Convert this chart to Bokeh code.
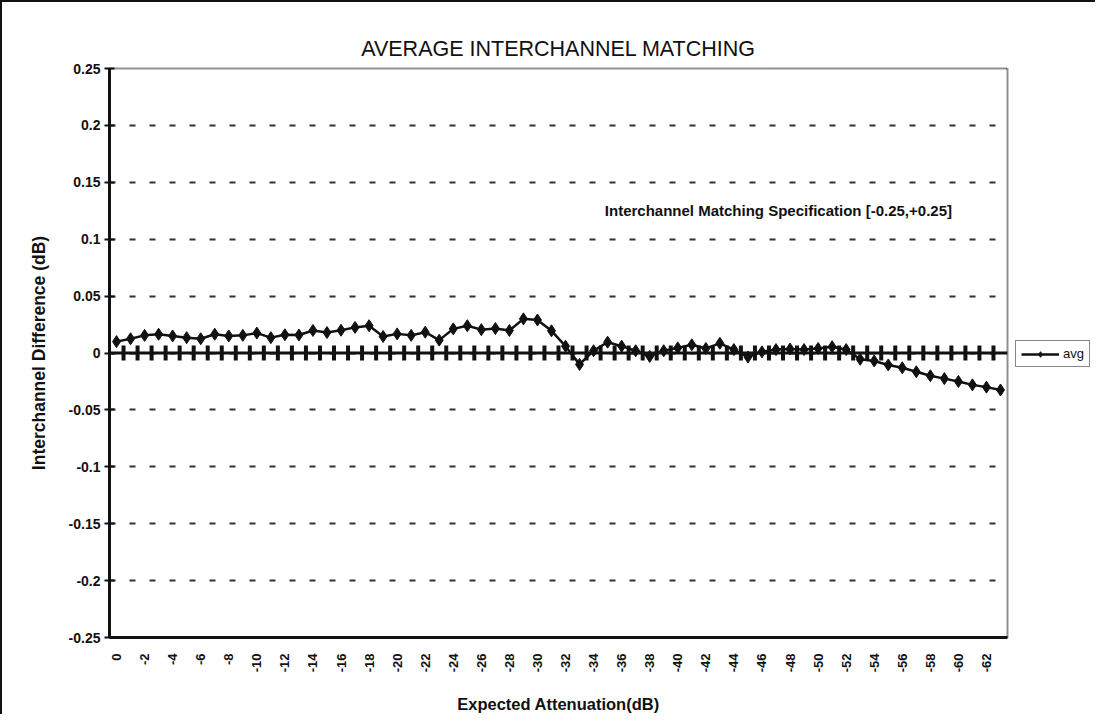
import math
from bokeh.plotting import figure
from bokeh.layouts import row
from bokeh.models import (FactorRange, Range1d, FixedTicker, Span, Label,
                          Legend, LegendItem, CustomJSTickFormatter)
from bokeh.embed import file_html
from bokeh.resources import INLINE

# ---------------- data ----------------
attenuation = ["0", "-1", "-2", "-3", "-4", "-5", "-6", "-7", "-8", "-9",
               "-10", "-11", "-12", "-13", "-14", "-15", "-16", "-17", "-18", "-19",
               "-20", "-21", "-22", "-23", "-24", "-25", "-26", "-27", "-28", "-29",
               "-30", "-31", "-32", "-33", "-34", "-35", "-36", "-37", "-38", "-39",
               "-40", "-41", "-42", "-43", "-44", "-45", "-46", "-47", "-48", "-49",
               "-50", "-51", "-52", "-53", "-54", "-55", "-56", "-57", "-58", "-59",
               "-60", "-61", "-62", "-63"]

avg = [0.010, 0.0125, 0.0155, 0.0165, 0.015, 0.0135, 0.0125, 0.0165, 0.015, 0.0155,
       0.0175, 0.0135, 0.016, 0.0158, 0.0198, 0.018, 0.020, 0.0225, 0.024, 0.0145,
       0.0168, 0.0155, 0.0183, 0.0113, 0.0212, 0.024, 0.0205, 0.0215, 0.0198, 0.030,
       0.029, 0.0195, 0.006, -0.010, 0.002, 0.0095, 0.006, 0.002, -0.003, 0.002,
       0.0045, 0.0072, 0.004, 0.0085, 0.003, -0.0035, 0.001, 0.003, 0.0035, 0.003,
       0.004, 0.0055, 0.003, -0.0055, -0.007, -0.0105, -0.013, -0.0165, -0.020, -0.0225,
       -0.025, -0.028, -0.030, -0.0325]

y_ticks = [0.25, 0.2, 0.15, 0.1, 0.05, 0.0, -0.05, -0.1, -0.15, -0.2, -0.25]
y_tick_labels = ["0.25", "0.2", "0.15", "0.1", "0.05", "0", "-0.05", "-0.1",
                 "-0.15", "-0.2", "-0.25"]

title_text = "AVERAGE INTERCHANNEL MATCHING"
x_title = "Expected Attenuation(dB)"
y_title = "Interchannel Difference (dB)"
spec_text = "Interchannel Matching Specification [-0.25,+0.25]"
series_name = "avg"

FONT = "Liberation Sans"
INK = "#111111"

# ---------------- main figure ----------------
p = figure(x_range=FactorRange(factors=attenuation),
           y_range=Range1d(-0.25, 0.25),
           frame_width=896, frame_height=567,
           min_border_left=107, min_border_right=4,
           min_border_top=66, min_border_bottom=69,
           output_backend="svg", toolbar_location=None,
           background_fill_color="white", border_fill_color="white")

# outer chart frame (left / top edges visible in the reference)
p.styles = {"border-left": "2px solid #111", "border-top": "2px solid #111"}

# title
p.title.text = title_text
p.title.align = "center"
p.title.text_font = FONT
p.title.text_font_size = "21.5px"
p.title.text_font_style = "normal"
p.title.text_color = INK
p.title.standoff = 15

# outline (top / right dotted)
p.outline_line_color = "#222222"
p.outline_line_width = 2
p.outline_line_dash = "1 1"

# grids
p.xgrid.grid_line_color = None
p.ygrid.ticker = FixedTicker(ticks=y_ticks)
p.ygrid.grid_line_color = "#333333"
p.ygrid.grid_line_width = 2
p.ygrid.grid_line_dash = "6 14"

# y axis
yax = p.yaxis[0]
yax.ticker = FixedTicker(ticks=y_ticks)
yax.major_label_overrides = {t: s for t, s in zip(y_ticks, y_tick_labels)}
yax.axis_line_width = 3
yax.axis_line_color = INK
yax.major_tick_in = 5
yax.major_tick_out = 5
yax.major_tick_line_width = 2
yax.major_tick_line_color = INK
yax.minor_tick_line_color = None
yax.major_label_text_font = FONT
yax.major_label_text_font_style = "bold"
yax.major_label_text_font_size = "14px"
yax.major_label_text_color = INK
yax.major_label_standoff = 4
yax.axis_label = y_title
yax.axis_label_text_font = FONT
yax.axis_label_text_font_style = "bold"
yax.axis_label_text_font_size = "17.5px"
yax.axis_label_text_color = INK
yax.axis_label_standoff = 17

# x axis (label every second category)
xax = p.xaxis[0]
xax.formatter = CustomJSTickFormatter(code="return (index % 2 == 0) ? tick : '';")
xax.major_label_orientation = math.pi / 2
xax.axis_line_width = 3
xax.axis_line_color = INK
xax.major_tick_line_color = None
xax.minor_tick_line_color = None
xax.major_label_text_font = FONT
xax.major_label_text_font_style = "bold"
xax.major_label_text_font_size = "13px"
xax.major_label_text_color = INK
xax.major_label_standoff = 10
xax.axis_label = x_title
xax.axis_label_text_font = FONT
xax.axis_label_text_font_style = "bold"
xax.axis_label_text_font_size = "16.5px"
xax.axis_label_text_color = INK
xax.axis_label_standoff = 20

# zero (category) axis line with crossing ticks at category boundaries
p.add_layout(Span(location=0, dimension="width", line_color=INK, line_width=3))
boundaries = list(range(1, len(attenuation)))
p.scatter(x=boundaries, y=[0] * len(boundaries), marker="dash", angle=math.pi / 2,
          size=15, line_width=4, line_color=INK)

# series
p.line(x=attenuation, y=avg, line_color=INK, line_width=2.5)
p.scatter(x=attenuation, y=avg, marker="diamond", size=12,
          fill_color=INK, line_color=INK)

# specification note
p.add_layout(Label(x=35.3, y=0.125, text=spec_text, text_font=FONT,
                   text_font_style="bold", text_font_size="15px",
                   text_color=INK, text_baseline="middle"))

# ---------------- legend panel (outside the plot, to the right) ----------------
lf = figure(width=86, height=702, x_range=Range1d(10, 11), y_range=Range1d(10, 11),
            x_axis_location=None, y_axis_location=None,
            min_border=0, output_backend="svg", toolbar_location=None,
            background_fill_color="white", border_fill_color="white")
lf.styles = {"border-top": "2px solid #111"}
lf.outline_line_color = None
lf.grid.grid_line_color = None
# legend proxies styled like the series (kept outside the visible range)
proxy_line = lf.line(x=[0, 1], y=[0, 1], line_color=INK, line_width=2.5)
proxy_pts = lf.scatter(x=[0], y=[0], marker="diamond", size=10,
                       fill_color=INK, line_color=INK)
legend = Legend(items=[LegendItem(label=series_name, renderers=[proxy_line, proxy_pts])],
                location=(6, 258), orientation="vertical",
                border_line_color=INK, border_line_width=1.5,
                background_fill_color="white", padding=5, margin=0, spacing=0,
                glyph_width=38, glyph_height=14, label_standoff=4,
                label_text_font=FONT, label_text_font_size="13px",
                label_text_color=INK)
lf.add_layout(legend)

layout = row(p, lf)
open("out.html", "w").write(file_html(layout, INLINE))
